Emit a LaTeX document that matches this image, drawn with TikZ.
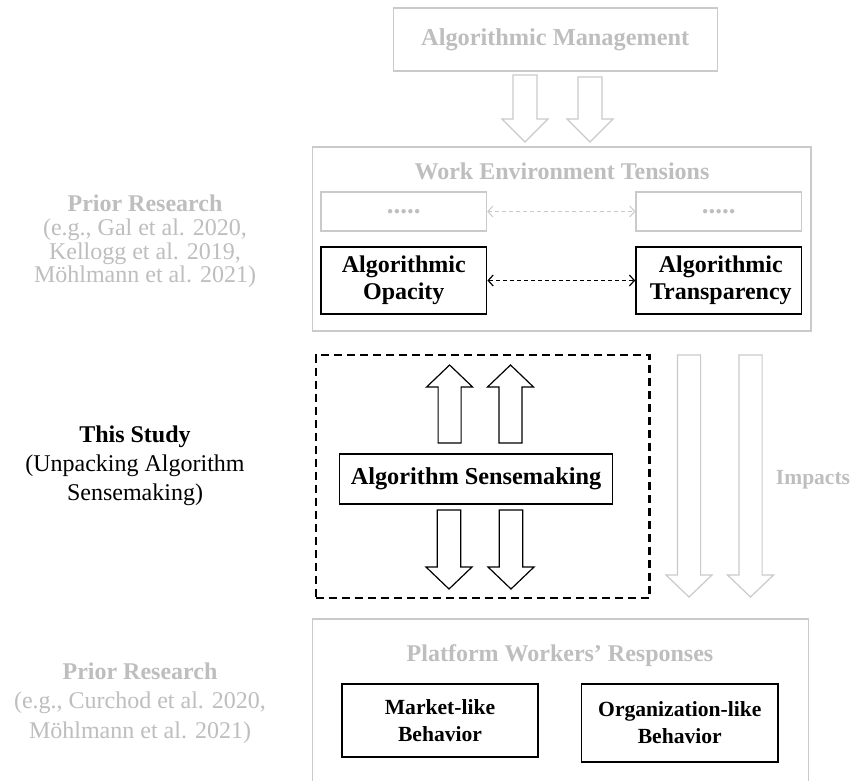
\documentclass[tikz,border=0pt]{standalone}
\usepackage{fontspec}
\setmainfont{Liberation Serif}
\usetikzlibrary{arrows.meta}
\definecolor{ltxt}{RGB}{190,190,190}
\definecolor{lbox}{RGB}{202,202,202}
% color, cx, tail y, head-base y, tip y, shaft half width, head half width
\newcommand{\blockarr}[7]{%
  \draw[#1, line width=1.2pt, line join=miter, fill=white]
    (#2-#6,#3) -- (#2+#6,#3) -- (#2+#6,#4) -- (#2+#7,#4) -- (#2,#5)
    -- (#2-#7,#4) -- (#2-#6,#4) -- cycle;}
\begin{document}
\begin{tikzpicture}[x=1pt,y=-1pt,
  graybox/.style={draw=lbox, line width=1.3pt, inner sep=0pt, fill=white},
  blackbox/.style={draw=black, line width=1.6pt, inner sep=0pt, align=center,
    fill=white, font=\fontsize{24}{27}\selectfont\bfseries},
  graytitle/.style={text=ltxt, inner sep=0pt, font=\fontsize{24}{28}\selectfont\bfseries},
  dotbox/.style={graybox, minimum width=165.6pt, minimum height=39pt, text=ltxt,
    font=\fontsize{27}{28}\selectfont\bfseries},
  sidetext/.style={align=center, inner sep=0pt},
  barbs/.style={{Straight Barb[length=5pt,width=11pt]}-{Straight Barb[length=5pt,width=11pt]}}
]
\useasboundingbox (0,0) rectangle (853,780);
\clip (0,0) rectangle (853,780);
\fill[white] (0,0) rectangle (853,780);

% ---------- top: algorithmic management ----------
\node[graybox, minimum width=324pt, minimum height=63pt, text=ltxt,
      font=\fontsize{24.3}{28}\selectfont\bfseries] (am) at (555.2,39.5) {Algorithmic Management};
\blockarr{lbox}{525}{75}{119}{142}{12}{23}
\blockarr{lbox}{590}{77}{119}{142}{12}{23}

% ---------- work environment tensions ----------
\node[graybox, minimum width=498.8pt, minimum height=184pt] (wet) at (561.7,239) {};
\node[graytitle] (wett) at (562,171) {Work Environment Tensions};
\node[dotbox] (d1) at (403.8,211.5) {.....};
\node[dotbox] (d2) at (718.8,211.5) {.....};
\draw[lbox, line width=1pt, dash pattern=on 4pt off 3pt, barbs] (d1.east) -- (d2.west);
\node[blackbox, minimum width=165.6pt, minimum height=67pt] (op) at (403.8,280.5) {Algorithmic\\Opacity};
\node[blackbox, minimum width=165.6pt, minimum height=67pt] (tr) at (718.8,280.5) {\hspace{4pt}Algorithmic\\\hspace{4pt}Transparency};
\draw[black, line width=1.2pt, dash pattern=on 4pt off 3pt, barbs] (op.east) -- (tr.west);

% ---------- this study ----------
\node[draw=black, line width=2.2pt, dash pattern=on 8pt off 5pt, inner sep=0pt,
      minimum width=333.7pt, minimum height=243pt] (study) at (482.65,476.5) {};
\blockarr{black}{449.6}{443}{387}{365}{11.5}{23}
\blockarr{black}{510.5}{443}{387}{365}{11.5}{23}
\node[blackbox, line width=1.3pt, minimum width=273.2pt, minimum height=50pt,
      font=\fontsize{24.3}{28}\selectfont\bfseries] (sm) at (476,479) {Algorithm Sensemaking};
\blockarr{black}{449}{510}{567}{589}{11.8}{23}
\blockarr{black}{511}{510}{567}{589}{11.8}{23}

% impacts arrows
\blockarr{lbox}{689}{355}{575}{597}{11.6}{23}
\blockarr{lbox}{750.5}{355}{575}{597}{11.6}{23}
\node[graytitle, font=\fontsize{21.5}{24}\selectfont\bfseries] (imp) at (813,480) {Impacts};

% ---------- platform workers' responses ----------
\node[graybox, minimum width=496.3pt, minimum height=181pt] (pwr) at (560.45,709.5) {};
\node[graytitle] (pwrt) at (560,656) {Platform Workers’ Responses};
\node[blackbox, line width=1.3pt, minimum width=196pt, minimum height=73pt,
      font=\fontsize{21.6}{27}\selectfont\bfseries] (mk) at (440,720.5) {Market-like\\Behavior};
\node[blackbox, line width=1.3pt, minimum width=196.4pt, minimum height=78pt,
      font=\fontsize{21.6}{27}\selectfont\bfseries] (org) at (679.8,723) {Organization-like\\Behavior};

% ---------- left side labels ----------
\node[sidetext, text=ltxt, font=\fontsize{24}{23.7}\selectfont] (pr1) at (145,241.5)
  {\textbf{Prior Research}\\(e.g., Gal et al. 2020,\\Kellogg et al. 2019,\\Möhlmann et al. 2021)};
\node[sidetext, text=black, font=\fontsize{24}{29}\selectfont] (ts) at (135,466)
  {\textbf{This Study}\\(Unpacking Algorithm\\Sensemaking)};
\node[sidetext, text=ltxt, font=\fontsize{24}{29.5}\selectfont] (pr2) at (140,703)
  {\textbf{Prior Research}\\(e.g., Curchod et al. 2020,\\Möhlmann et al. 2021)};
\end{tikzpicture}
\end{document}
